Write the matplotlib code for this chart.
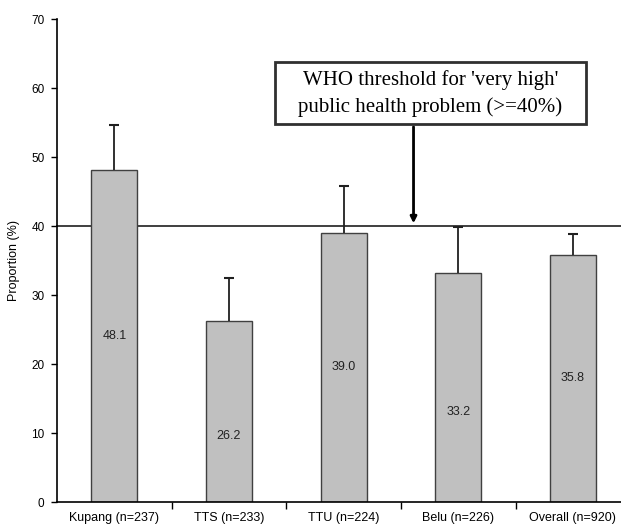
import matplotlib.pyplot as plt
from matplotlib.patches import Rectangle

# ------------------------------
# Data
# ------------------------------
districts = ['Kupang (n=237)', 'TTS (n=233)', 'TTU (n=224)', 'Belu (n=226)', 'Overall (n=920)']
proportion = [48.1, 26.2, 39.0, 33.2, 35.8]
upper_err = [6.5, 6.3, 6.8, 6.6, 3.1]
value_labels = ['48.1', '26.2', '39.0', '33.2', '35.8']
label_heights = [24.1, 9.6, 19.6, 13.0, 18.0]
threshold = 40

plt.rcParams['font.family'] = ['Liberation Sans', 'DejaVu Sans']

fig = plt.figure(figsize=(6.21, 5.26), dpi=100)
ax = fig.add_axes([0.0918, 0.0456, 0.923, 0.918])

x = list(range(len(districts)))
ax.bar(x, proportion, width=0.4, color='#c0c0c0', edgecolor='#404040', linewidth=1, zorder=2)

# upper error bars only (no cap at bar top)
tops = [p + e for p, e in zip(proportion, upper_err)]
ax.vlines(x, proportion, tops, color='#202020', linewidth=1.3, zorder=3)
ax.plot(x, tops, linestyle='none', marker='_', markersize=7, markeredgewidth=1.5,
        color='#202020', zorder=3)

for xi, lab, h in zip(x, value_labels, label_heights):
    ax.text(xi, h, lab, ha='center', va='center', fontsize=9, color='#222222', zorder=4)

# threshold line
ax.axhline(threshold, color='#303030', linewidth=1.3, zorder=1, clip_on=False)

# annotation box with arrow
ax.annotate('', xy=(2.61, threshold), xytext=(2.61, 54.8),
            arrowprops=dict(arrowstyle='-|>', color='black', lw=2, mutation_scale=9), zorder=5)
ax.add_patch(Rectangle((1.404, 54.8), 2.707, 9.0, facecolor='white', edgecolor='#303030',
                       linewidth=2, zorder=6))
ax.text(2.758, 61.2, "WHO threshold for 'very high'", ha='center', va='center',
        fontsize=15, family='Liberation Serif', zorder=7)
ax.text(2.758, 57.3, "public health problem (>=40%)", ha='center', va='center',
        fontsize=15, family='Liberation Serif', zorder=7)

ax.set_xlim(-0.5, 4.5)
ax.set_ylim(0, 70)
ax.set_yticks(range(0, 71, 10))
ax.set_xticks([i + 0.5 for i in range(4)])
ax.set_xticklabels([])
ax.tick_params(axis='x', length=5, direction='out', width=1)
ax.tick_params(axis='y', length=4, direction='out', width=1, labelsize=8.5, pad=5)
for xi, name in zip(x, districts):
    ax.text(xi, -1.5, name, ha='center', va='top', fontsize=9)

ax.set_ylabel('Proportion (%)', fontsize=9, labelpad=8)
for side in ['top', 'right']:
    ax.spines[side].set_visible(False)
ax.spines['left'].set_linewidth(1.2)
ax.spines['bottom'].set_linewidth(1.2)

fig.savefig('out.png', dpi=100)
